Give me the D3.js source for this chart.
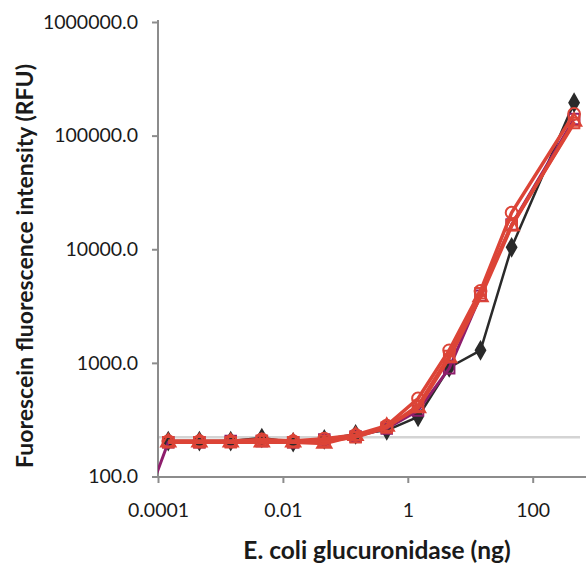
<!DOCTYPE html>
<html><head><meta charset="utf-8">
<script src="https://cdn.jsdelivr.net/npm/d3@7"></script>
<style>body{margin:0;background:#fff}svg{display:block}</style>
</head><body>
<script>
const doses = [0.000146, 0.00046, 0.00146, 0.0046, 0.0146, 0.046, 0.146, 0.46, 1.46, 4.6, 14.6, 46, 460];
const blackDiamond = [205, 205, 205, 218, 200, 212, 235, 255, 335, 910, 1290, 10400, 195000];
const purpleLine   = [36, 200, 200, 205, 205, 200, 212, 225, 265, 380, 895, 3900, 16500, 140000];
const purpleDoses  = [0.000046, 0.000146, 0.00046, 0.00146, 0.0046, 0.0146, 0.046, 0.146, 0.46, 1.46, 4.6, 14.6, 46, 460];
const redCircle    = [205, 205, 205, 212, 205, 215, 232, 280, 486, 1290, 4300, 21000, 155000];
const redSquare    = [200, 200, 200, 205, 200, 205, 222, 270, 420, 1150, 4090, 16300, 129000];
const redTriangle  = [200, 200, 200, 200, 200, 195, 228, 275, 400, 1100, 3800, 16000, 133000];
const backgroundLevel = 221;
const yTicks = [100, 1000, 10000, 100000, 1000000];
const xTicks = [0.0001, 0.01, 1, 100];
const xTickLabels = ["0.0001", "0.01", "1", "100"];
const xTitle = "E. coli glucuronidase (ng)";
const yTitle = "Fuorescein fluorescence intensity (RFU)";

const W = 586, H = 569;
const svg = d3.select("body").append("svg").attr("width", W).attr("height", H);
const x = d3.scaleLog().domain([1e-4, 1000]).range([158, 158 + 7 * 62.45]);
const y = d3.scaleLog().domain([100, 1e6]).range([476.5, 22]);
const font = "Lato, 'Open Sans', sans-serif";

svg.append("defs").append("clipPath").attr("id", "plot")
  .append("rect").attr("x", 158).attr("y", 0).attr("width", W - 158).attr("height", 477);

// background line
svg.append("line").attr("x1", x(1e-4)).attr("x2", 580)
  .attr("y1", y(backgroundLevel)).attr("y2", y(backgroundLevel))
  .attr("stroke", "#d4d4d4").attr("stroke-width", 2.5);

// axes
const yAxis = svg.append("g").attr("transform", "translate(158,0)")
  .call(d3.axisLeft(y).tickValues(yTicks).tickFormat(d3.format(".1f")).tickSize(6).tickPadding(14));
const xAxis = svg.append("g").attr("transform", "translate(0,477)")
  .call(d3.axisBottom(x).tickValues(xTicks).tickFormat((d, i) => xTickLabels[i]).tickSize(6).tickPadding(20));
xAxis.select(".domain").attr("d", "M158,0H586");
yAxis.select(".domain").attr("d", "M0,20V477");
[xAxis, yAxis].forEach(g => {
  g.selectAll(".domain,line").attr("stroke", "#8c8c8c").attr("stroke-width", 2);
  g.selectAll("text").attr("font-family", font).attr("font-size", 19.5).attr("fill", "#1a1a1a");
});

const plot = svg.append("g").attr("clip-path", "url(#plot)");
const line = d3.line().x(d => x(d[0])).y(d => y(d[1]));

function drawSeries(xs, vals, color, width, shape, filled, size) {
  const pts = xs.map((d, i) => [d, vals[i]]);
  plot.append("path").datum(pts).attr("d", line).attr("fill", "none")
    .attr("stroke", color).attr("stroke-width", width).attr("stroke-linejoin", "round");
  plot.selectAll(null).data(pts).enter().append("path")
    .attr("transform", d => `translate(${x(d[0])},${y(d[1])})`)
    .attr("d", d3.symbol().type(shape).size(size))
    .attr("fill", filled ? color : "none")
    .attr("stroke", color).attr("stroke-width", 2);
}

drawSeries(doses, blackDiamond, "#2a2a2a", 2.5, d3.symbolDiamond, true, 80);
drawSeries(purpleDoses, purpleLine, "#8e1d6c", 3, d3.symbolSquare, false, 110);
drawSeries(doses, redTriangle, "#dc4437", 3.5, d3.symbolTriangle, false, 90);
drawSeries(doses, redSquare, "#dc4437", 3.5, d3.symbolSquare, false, 110);
drawSeries(doses, redCircle, "#dc4437", 3.5, d3.symbolCircle, false, 110);

svg.append("text").attr("x", 377).attr("y", 559).attr("text-anchor", "middle")
  .attr("font-family", font).attr("font-weight", "bold").attr("font-size", 24.5).attr("fill", "#1a1a1a")
  .text(xTitle);
svg.append("text").attr("transform", "translate(33,266) rotate(-90)").attr("text-anchor", "middle")
  .attr("font-family", font).attr("font-weight", "bold").attr("font-size", 23).attr("fill", "#1a1a1a")
  .text(yTitle);
</script>
</body></html>
